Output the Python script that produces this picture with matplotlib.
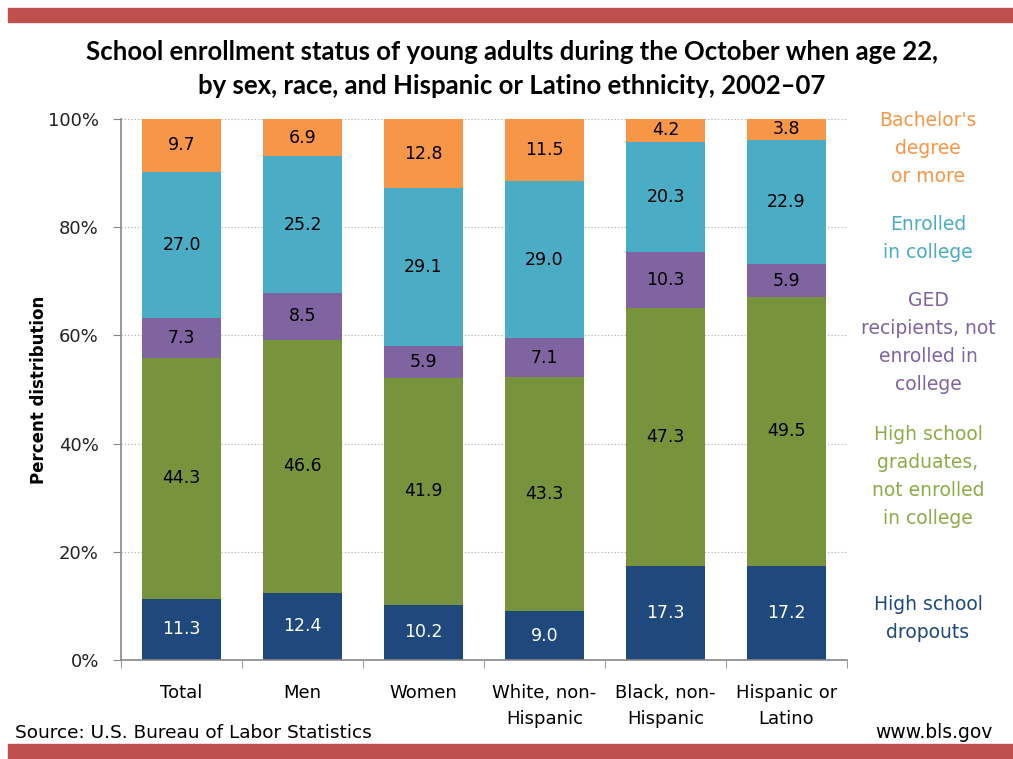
import numpy as np
import matplotlib.pyplot as plt
from matplotlib.patches import Rectangle

# Dados (percentuais)
categories = ['Total', 'Men', 'Women', 'White, non-\nHispanic', 'Black, non-\nHispanic', 'Hispanic or\nLatino']
dropouts = [11.3, 12.4, 10.2, 9.0, 17.3, 17.2]
hs_grads = [44.3, 46.6, 41.9, 43.3, 47.3, 49.5]
ged = [7.3, 8.5, 5.9, 7.1, 10.3, 5.9]
enrolled = [27.0, 25.2, 29.1, 29.0, 20.3, 22.9]
bachelors = [9.7, 6.9, 12.8, 11.5, 4.2, 3.8]

series = [dropouts, hs_grads, ged, enrolled, bachelors]
series_names = ['High school\ndropouts',
                'High school\ngraduates,\nnot enrolled\nin college',
                'GED\nrecipients, not\nenrolled in\ncollege',
                'Enrolled\nin college',
                "Bachelor's\ndegree\nor more"]
colors = ['#1F497D', '#77933C', '#8064A2', '#4BACC6', '#F79646']
text_colors = ['#1F497D', '#8FAA47', '#8064A2', '#4BACC6', '#F79646']
label_colors = ['white', 'black', 'black', 'black', 'black']

plt.rcParams['font.family'] = ['DejaVu Sans']

fig = plt.figure(figsize=(10.13, 7.59), dpi=100)
ax = fig.add_axes([121 / 1013, 1 - 660 / 759, 726 / 1013, 541 / 759])

data = np.array(series)
totals = data.sum(axis=0)
x = np.arange(len(categories))
bottom = np.zeros(len(categories))
for vals, col, lc in zip(data, colors, label_colors):
    h = vals / totals * 100
    ax.bar(x, h, width=0.66, bottom=bottom, color=col, zorder=2)
    for xi, b, hi, v in zip(x, bottom, h, vals):
        ax.text(xi, b + hi / 2, f'{v:.1f}', ha='center', va='center',
                fontsize=12.5, color=lc, zorder=3)
    bottom += h

ax.set_xlim(-0.5, len(categories) - 0.5)
ax.set_ylim(0, 100)
ax.set_yticks([0, 20, 40, 60, 80, 100])
ax.set_yticklabels(['0%', '20%', '40%', '60%', '80%', '100%'], fontsize=13, color='#222222')
ax.yaxis.grid(True, linestyle=(0, (1, 2)), color='#AAAAAA', linewidth=0.8, zorder=0)
ax.set_xticks(x)
ax.set_xticklabels(categories, fontsize=13, linespacing=1.6)
ax.tick_params(axis='x', which='major', length=0, pad=17)
ax.set_xticks(np.arange(-0.5, len(categories)), minor=True)
ax.tick_params(axis='x', which='minor', length=6, color='#888888')
ax.tick_params(axis='y', length=6, color='#888888', pad=10)
for s in ['top', 'right']:
    ax.spines[s].set_visible(False)
for s in ['left', 'bottom']:
    ax.spines[s].set_color('#888888')
    ax.spines[s].set_linewidth(1.2)
ax.set_ylabel('Percent distribution', fontsize=12, fontweight='bold', labelpad=0)

# Título
fig.text(0.505, 1 - 69 / 759, 'School enrollment status of young adults during the October when age 22,\n'
         'by sex, race, and Hispanic or Latino ethnicity, 2002\u201307',
         ha='center', va='center', fontsize=18.5, fontweight='bold', family='Lato', linespacing=1.45)

# Rótulos da legenda à direita
legend_y = [618, 477, 343, 239, 149]
for name, tc, ly in zip(series_names, text_colors, legend_y):
    fig.text(928 / 1013, 1 - ly / 759, name, ha='center', va='center',
             fontsize=13.5, color=tc, linespacing=1.6)

fig.text(15 / 1013, 1 - 733 / 759, 'Source: U.S. Bureau of Labor Statistics', ha='left', va='center', fontsize=13.3)
fig.text(993 / 1013, 1 - 733 / 759, 'www.bls.gov', ha='right', va='center', fontsize=13.5)

# Faixas vermelhas
fig.patches.append(Rectangle((8 / 1013, 1 - 22 / 759), 1, 14 / 759, transform=fig.transFigure,
                             color='#C0504D', zorder=0))
fig.patches.append(Rectangle((8 / 1013, 0), 1, 15 / 759, transform=fig.transFigure,
                             color='#C0504D', zorder=0))

fig.savefig('out.png', dpi=100)
